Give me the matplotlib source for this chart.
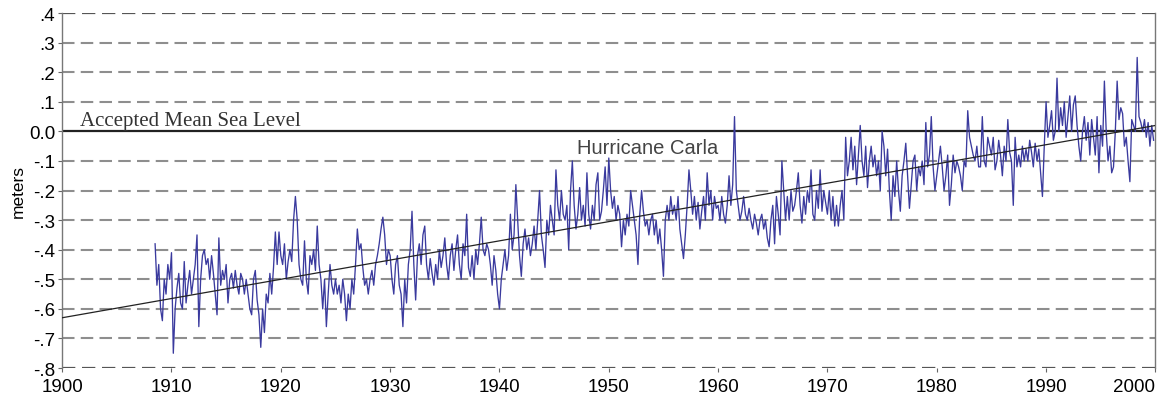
import numpy as np
import matplotlib.pyplot as plt

plt.switch_backend('agg')

# monthly-ish sea level readings (m), 6 per year, starting mid 1908
start_year = 1908.5
per_year = 6

lvl_1900s = [-0.38, -0.52, -0.45,
             -0.60, -0.64, -0.50, -0.55, -0.45, -0.50]
lvl_1910s = [-0.41, -0.75, -0.60, -0.53, -0.48, -0.58,
             -0.60, -0.44, -0.58, -0.52, -0.47, -0.55,
             -0.50, -0.45, -0.35, -0.66, -0.50, -0.42,
             -0.40, -0.45, -0.43, -0.50, -0.42, -0.48,
             -0.55, -0.62, -0.36, -0.52, -0.47, -0.50,
             -0.45, -0.58, -0.50, -0.48, -0.53, -0.47,
             -0.52, -0.55, -0.48, -0.50, -0.55, -0.50,
             -0.55, -0.60, -0.62, -0.50, -0.47, -0.57,
             -0.62, -0.73, -0.60, -0.68, -0.55, -0.58,
             -0.48, -0.55, -0.46, -0.34, -0.45, -0.34]
lvl_1920s = [-0.42, -0.45, -0.38, -0.50, -0.44, -0.40,
             -0.44, -0.30, -0.22, -0.30, -0.45, -0.50,
             -0.52, -0.37, -0.50, -0.55, -0.42, -0.45,
             -0.40, -0.47, -0.32, -0.45, -0.50, -0.60,
             -0.50, -0.66, -0.55, -0.45, -0.52, -0.55,
             -0.50, -0.55, -0.52, -0.58, -0.50, -0.55,
             -0.64, -0.55, -0.60, -0.50, -0.55, -0.45,
             -0.33, -0.40, -0.38, -0.46, -0.52, -0.50,
             -0.55, -0.50, -0.47, -0.52, -0.45, -0.42,
             -0.38, -0.33, -0.29, -0.35, -0.45, -0.40]
lvl_1930s = [-0.42, -0.50, -0.55, -0.45, -0.42, -0.52,
             -0.55, -0.66, -0.50, -0.58, -0.45, -0.40,
             -0.27, -0.45, -0.57, -0.42, -0.38, -0.45,
             -0.35, -0.32, -0.45, -0.50, -0.43, -0.48,
             -0.52, -0.45, -0.50, -0.40, -0.46, -0.42,
             -0.36, -0.45, -0.50, -0.42, -0.38, -0.47,
             -0.40, -0.35, -0.45, -0.50, -0.38, -0.42,
             -0.28, -0.46, -0.49, -0.42, -0.50, -0.40,
             -0.45, -0.38, -0.29, -0.40, -0.42, -0.38,
             -0.40, -0.45, -0.52, -0.42, -0.47, -0.55]
lvl_1940s = [-0.60, -0.50, -0.45, -0.40, -0.47, -0.42,
             -0.28, -0.40, -0.35, -0.18, -0.30, -0.42,
             -0.49, -0.38, -0.33, -0.40, -0.36, -0.42,
             -0.38, -0.32, -0.40, -0.30, -0.20, -0.35,
             -0.40, -0.46, -0.30, -0.35, -0.25, -0.30,
             -0.35, -0.13, -0.25, -0.30, -0.20, -0.28,
             -0.30, -0.25, -0.40, -0.20, -0.10, -0.25,
             -0.33, -0.28, -0.19, -0.30, -0.25, -0.32,
             -0.14, -0.28, -0.33, -0.25, -0.30, -0.18,
             -0.14, -0.30, -0.27, -0.20, -0.12, -0.25]
lvl_1950s = [-0.09, -0.20, -0.26, -0.22, -0.30, -0.25,
             -0.28, -0.39, -0.30, -0.35, -0.28, -0.32,
             -0.20, -0.25, -0.30, -0.35, -0.45, -0.28,
             -0.20, -0.27, -0.32, -0.30, -0.35, -0.30,
             -0.28, -0.35, -0.30, -0.38, -0.33, -0.40,
             -0.49, -0.30, -0.25, -0.30, -0.22, -0.28,
             -0.25, -0.30, -0.22, -0.33, -0.38, -0.43,
             -0.35, -0.25, -0.13, -0.20, -0.28, -0.22,
             -0.30, -0.24, -0.33, -0.27, -0.22, -0.30,
             -0.14, -0.25, -0.20, -0.30, -0.22, -0.26]
lvl_1960s = [-0.25, -0.30, -0.22, -0.28, -0.31, -0.25,
             -0.15, -0.25, -0.18, 0.05, -0.20, -0.25,
             -0.30, -0.27, -0.22, -0.28, -0.30, -0.26,
             -0.30, -0.33, -0.28, -0.31, -0.35, -0.30,
             -0.28, -0.33, -0.30, -0.36, -0.39, -0.30,
             -0.25, -0.38, -0.22, -0.28, -0.35, -0.10,
             -0.20, -0.30, -0.22, -0.30, -0.20, -0.27,
             -0.25, -0.20, -0.14, -0.25, -0.31, -0.22,
             -0.28, -0.20, -0.24, -0.13, -0.28, -0.30,
             -0.20, -0.26, -0.13, -0.27, -0.20, -0.24]
lvl_1970s = [-0.28, -0.20, -0.30, -0.22, -0.32, -0.25,
             -0.32, -0.25, -0.20, -0.30, -0.02, -0.15,
             -0.10, -0.02, -0.13, -0.05, -0.18, -0.08,
             0.02, -0.10, -0.15, -0.05, -0.19, -0.10,
             -0.05, -0.12, -0.08, -0.15, -0.10, -0.20,
             0.00, -0.05, -0.15, -0.06, -0.20, -0.30,
             -0.15, -0.22, -0.10, -0.20, -0.27, -0.15,
             -0.10, -0.04, -0.15, -0.26, -0.18, -0.10,
             -0.08, -0.20, -0.12, -0.15, -0.10, -0.18,
             0.03, -0.12, -0.08, 0.05, -0.12, -0.20]
lvl_1980s = [-0.15, -0.10, -0.05, -0.12, -0.20, -0.15,
             -0.08, -0.25, -0.18, -0.08, -0.14, -0.10,
             -0.12, -0.15, -0.20, -0.10, -0.12, 0.07,
             -0.02, -0.05, -0.08, -0.10, -0.05, -0.12,
             -0.12, 0.05, -0.10, -0.12, -0.02, -0.05,
             -0.08, -0.02, -0.13, -0.10, -0.03, -0.08,
             -0.15, -0.05, -0.10, 0.04, -0.07, -0.10,
             -0.25, -0.02, -0.12, -0.08, -0.12, -0.05,
             -0.10, -0.06, -0.10, -0.03, -0.07, -0.12,
             -0.04, -0.10, -0.06, -0.14, -0.22, -0.05]
lvl_1990s = [0.10, -0.02, 0.02, 0.07, -0.03, 0.00,
             0.18, 0.00, 0.08, 0.02, 0.10, -0.02,
             0.05, 0.12, 0.00, 0.09, 0.12, 0.02,
             -0.05, -0.10, 0.00, 0.05, -0.03, 0.03,
             -0.08, 0.04, -0.02, -0.08, 0.05, -0.14,
             0.02, -0.05, 0.17, 0.00, -0.10, -0.05,
             -0.14, -0.12, 0.00, 0.17, 0.04, 0.08,
             0.06, -0.05, -0.02, -0.10, -0.17, 0.04,
             0.02, 0.00, 0.25, 0.05, 0.03, 0.00,
             0.04, -0.02, 0.03, -0.05, 0.02, -0.03]

trend_years = [1900, 2000]
trend_vals = [-0.63, 0.02]

yticks = [0.4, 0.3, 0.2, 0.1, 0.0, -0.1, -0.2, -0.3, -0.4, -0.5, -0.6, -0.7, -0.8]
ytick_labels = ['.4', '.3', '.2', '.1', '0.0', '-.1', '-.2', '-.3', '-.4',
                '-.5', '-.6', '-.7', '-.8']
xticks = [1900, 1910, 1920, 1930, 1940, 1950, 1960, 1970, 1980, 1990, 2000]

levels = np.array(lvl_1900s + lvl_1910s + lvl_1920s + lvl_1930s + lvl_1940s
                  + lvl_1950s + lvl_1960s + lvl_1970s + lvl_1980s + lvl_1990s)
years = start_year + np.arange(len(levels)) / per_year

plt.rcParams['font.family'] = ['Liberation Sans', 'DejaVu Sans']

fig = plt.figure(figsize=(11.73, 4.02), dpi=100)
ax = fig.add_axes([0.053, 0.082, 0.932, 0.883])

# grid: dashed, darker on top / bottom edges, solid at mean sea level
for v in yticks:
    if v == 0.0:
        ax.axhline(v, color='#222222', lw=1.6, zorder=1)
    elif v in (0.4, -0.8):
        ax.axhline(v, color='#555555', lw=1.6, ls=(0, (6, 3)), zorder=1)
    else:
        ax.axhline(v, color='#8e8e8e', lw=1.5, ls=(0, (6, 3)), zorder=1)

ax.plot(years, levels, color='#3a3a9e', lw=0.95, zorder=3)
ax.plot(trend_years, trend_vals, color='#222222', lw=0.9, zorder=4)

ax.text(1901.6, 0.004, 'Accepted Mean Sea Level', family='Liberation Serif',
        fontsize=15, color='#333333', va='bottom', ha='left')
ax.text(1947.1, -0.055, 'Hurricane Carla', fontsize=14.5, color='#444444',
        va='center', ha='left')

ax.set_xlim(1900, 2000)
ax.set_ylim(-0.8, 0.4)
ax.set_yticks(yticks)
ax.set_yticklabels(ytick_labels)
ax.set_xticks(xticks)
ax.tick_params(labelsize=13.5, length=3, color='#666666')
ax.tick_params(axis='x', pad=4)
ax.tick_params(axis='y', pad=2)
ax.set_ylabel('meters', fontsize=12.5, labelpad=2)

xlabels = ax.get_xticklabels()
xlabels[-1].set_horizontalalignment('right')
xlabels[-1].set_x(2000.2)

for side in ['top', 'bottom']:
    ax.spines[side].set_visible(False)
for side in ['left', 'right']:
    ax.spines[side].set_color('#777777')
    ax.spines[side].set_linewidth(1.0)

plt.savefig('out.png', dpi=100)
